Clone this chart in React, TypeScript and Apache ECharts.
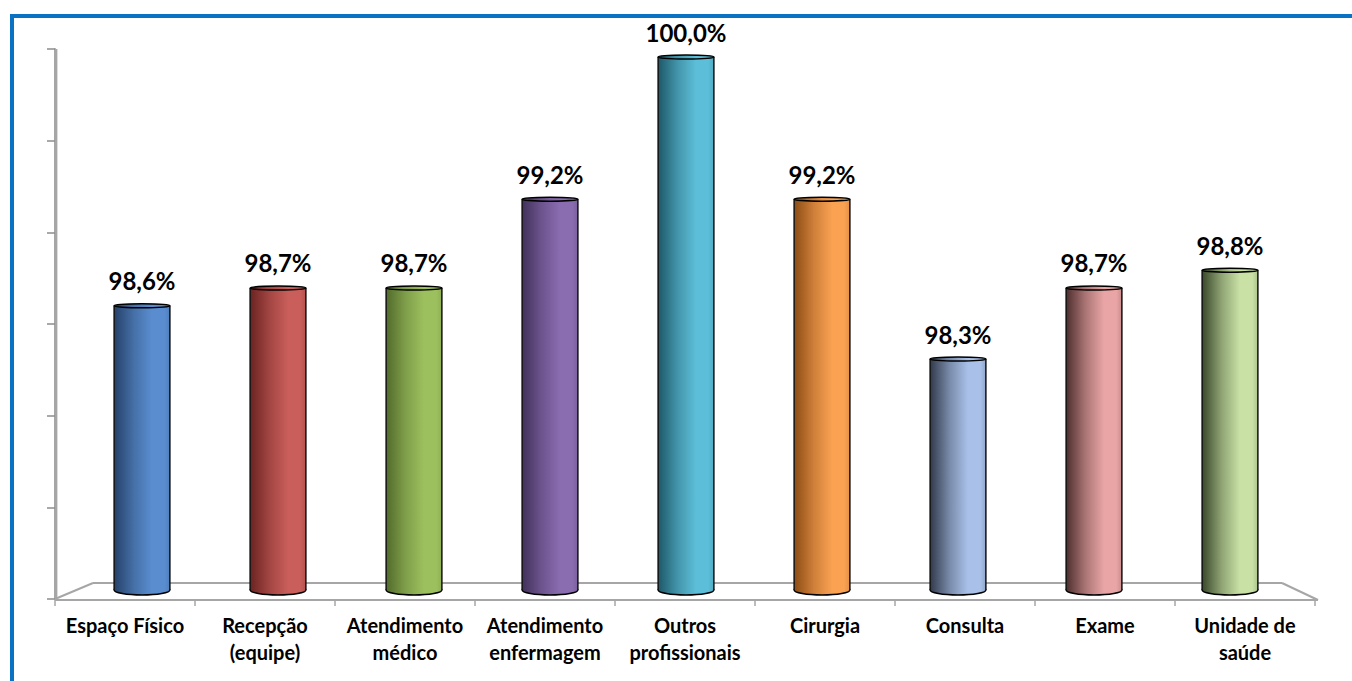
import React, { useEffect, useRef } from "react";
import * as echarts from "echarts";

const categories = [
  "Espaço Físico",
  "Recepção\n(equipe)",
  "Atendimento\nmédico",
  "Atendimento\nenfermagem",
  "Outros\nprofissionais",
  "Cirurgia",
  "Consulta",
  "Exame",
  "Unidade de\nsaúde",
];
const values = [98.6, 98.7, 98.7, 99.2, 100.0, 99.2, 98.3, 98.7, 98.8];
const valueLabels = ["98,6%", "98,7%", "98,7%", "99,2%", "100,0%", "99,2%", "98,3%", "98,7%", "98,8%"];
const darkColors = ["#26416A", "#6A2321", "#526B2B", "#41315A", "#1D5868", "#8C4C14", "#323A4B", "#4E2E2E", "#39482A"];
const lightColors = ["#5A8DD0", "#C95E5A", "#9DC05E", "#8A6CB0", "#5CBED8", "#FAA152", "#A9C1E9", "#E9A5A5", "#C9E1A5"];
const yMin = 97;
const yMax = 100;

function grad(i: number) {
  return new echarts.graphic.LinearGradient(0, 0, 1, 0, [
    { offset: 0, color: darkColors[i] },
    { offset: 0.35, color: echarts.color.lerp(0.6, [darkColors[i], lightColors[i]]) as string },
    { offset: 0.68, color: lightColors[i] },
    { offset: 0.9, color: lightColors[i] },
    { offset: 1, color: echarts.color.lerp(0.2, [lightColors[i], darkColors[i]]) as string },
  ]);
}

export default function App() {
  const ref = useRef<HTMLDivElement>(null);
  useEffect(() => {
    document.body.style.margin = "0";
    const chart = echarts.init(ref.current!, null, { renderer: "svg" });
    const gray = "#A6A6A6";
    const option: any = {
      animation: false,
      backgroundColor: "#ffffff",
      grid: [
        { left: 74, right: 54, top: 57, bottom: 91 },
        { left: 55, right: 37, top: 49, bottom: 82 },
      ],
      xAxis: [
        {
          gridIndex: 0,
          type: "category",
          data: categories,
          show: false,
        },
        {
          gridIndex: 1,
          type: "category",
          data: categories,
          axisLine: { show: false },
          axisTick: { show: true, length: 7, lineStyle: { color: gray, width: 1.5 } },
          axisLabel: {
            interval: 0,
            margin: 12,
            color: "#000",
            fontFamily: "Lato",
            fontWeight: "bold",
            fontSize: 20,
            lineHeight: 27,
          },
        },
      ],
      yAxis: [
        { gridIndex: 0, type: "value", min: yMin, max: yMax, show: false },
        {
          gridIndex: 1,
          type: "value",
          min: yMin,
          max: yMax,
          interval: 0.5,
          splitLine: { show: false },
          axisLabel: { show: false },
          axisLine: { show: true, onZero: false, lineStyle: { color: gray, width: 2 } },
          axisTick: { show: true, length: 8, lineStyle: { color: "#8C8C8C", width: 1.5 } },
        },
      ],
      graphic: [
        { type: "rect", z: 0, shape: { x: 10, y: 14, width: 1342, height: 4 }, style: { fill: "#0A72C2" } },
        { type: "rect", z: 0, shape: { x: 10, y: 14, width: 4, height: 667 }, style: { fill: "#0A72C2" } },
        { type: "line", z: 0, shape: { x1: 56, y1: 49, x2: 56, y2: 599 }, style: { stroke: gray, lineWidth: 2 } },
        { type: "line", z: 0, shape: { x1: 57.5, y1: 49, x2: 57.5, y2: 599 }, style: { stroke: "#DDDDDD", lineWidth: 1 } },
        { type: "line", z: 0, shape: { x1: 93, y1: 583, x2: 1282, y2: 583 }, style: { stroke: gray, lineWidth: 2 } },
        { type: "line", z: 0, shape: { x1: 55, y1: 599, x2: 93, y2: 583 }, style: { stroke: gray, lineWidth: 2 } },
        { type: "line", z: 0, shape: { x1: 1282, y1: 583, x2: 1318, y2: 600 }, style: { stroke: gray, lineWidth: 2 } },
        { type: "line", z: 0, shape: { x1: 55, y1: 600, x2: 1318, y2: 600 }, style: { stroke: gray, lineWidth: 2 } },
      ],
      series: [
        {
          type: "custom",
          xAxisIndex: 0,
          yAxisIndex: 0,
          z: 5,
          data: values.map((v, i) => [i, v]),
          renderItem: (params: any, api: any) => {
            const i = api.value(0);
            const v = api.value(1);
            const top = api.coord([i, v]);
            const base = api.coord([i, yMin]);
            const w = api.size([1, 0])[0] * 0.41;
            const cx = top[0];
            const x0 = cx - w / 2;
            const g = grad(i);
            return {
              type: "group",
              children: [
                {
                  type: "ellipse",
                  shape: { cx, cy: base[1], rx: w / 2, ry: 5 },
                  style: { fill: g, stroke: "#000", lineWidth: 1.5 },
                },
                {
                  type: "rect",
                  shape: { x: x0, y: top[1], width: w, height: base[1] - top[1] },
                  style: { fill: g },
                },
                {
                  type: "line",
                  shape: { x1: x0, y1: top[1], x2: x0, y2: base[1] },
                  style: { stroke: "#111", lineWidth: 1.5 },
                },
                {
                  type: "line",
                  shape: { x1: x0 + w, y1: top[1], x2: x0 + w, y2: base[1] },
                  style: { stroke: "#111", lineWidth: 1.5 },
                },
                {
                  type: "ellipse",
                  shape: { cx, cy: top[1], rx: w / 2, ry: 2 },
                  style: { fill: g, stroke: "#000", lineWidth: 1.5 },
                },
                {
                  type: "text",
                  style: {
                    text: valueLabels[params.dataIndex],
                    x: cx,
                    y: top[1] - 13,
                    align: "center",
                    verticalAlign: "bottom",
                    fill: "#000",
                    fontFamily: "Lato",
                    fontWeight: "bold",
                    fontSize: 24,
                  },
                },
              ],
            };
          },
        },
      ],
    };
    chart.setOption(option);
    return () => chart.dispose();
  }, []);
  return <div ref={ref} style={{ position: "fixed", left: 0, top: 0, width: 1352, height: 681 }} />;
}
